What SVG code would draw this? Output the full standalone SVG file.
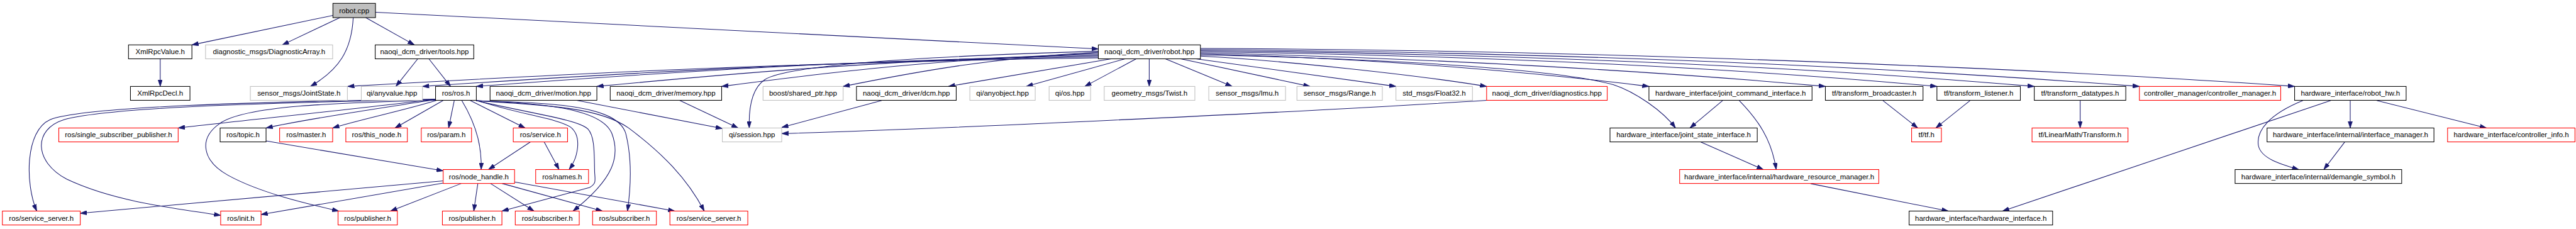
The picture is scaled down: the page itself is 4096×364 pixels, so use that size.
<svg xmlns="http://www.w3.org/2000/svg" width="4096" height="364" viewBox="0 0 4096 364">
<style>
.n rect{fill:#fff;stroke-width:1.2}
.b rect{stroke:#000}
.g rect{stroke:#bfbfbf}
.r rect{stroke:#ff0000}
.n text{font-family:"Liberation Sans",Arial,sans-serif;font-size:13px;text-anchor:middle;fill:#000}
.e{fill:none;stroke:#191970;stroke-width:1.2;marker-end:url(#a)}
</style>
<defs>
<marker id="a" markerUnits="userSpaceOnUse" markerWidth="12" markerHeight="8" refX="12" refY="4" orient="auto"><path d="M0,0 L12,4 L0,8 z" fill="#191970" stroke="#191970" stroke-width="0.8"/></marker>
</defs>
<rect width="4096" height="364" fill="#fff"/>
<g transform="scale(0.8845)">
<g id="edges">
<path class="e" d="M598.5,27.7 L345,80.7"/>
<path class="e" d="M611,31.7 L507.5,80.7"/>
<path class="e" d="M635,31.7 C632,90 610,125 558,155.3"/>
<path class="e" d="M657.5,31.7 L745,80.7"/>
<path class="e" d="M675,22 L1974.5,88"/>
<path class="e" d="M288,105.7 L288,155.3"/>
<path class="e" d="M751,105.7 L711.7,155.3"/>
<path class="e" d="M771,105.7 L810,155.3"/>
<path class="e" d="M1974.5,104 C1434.7,111.7 1030,132 625,155.3"/>
<path class="e" d="M1974.5,102 C1488.5,110 1124,131 759.5,155.3"/>
<path class="e" d="M1974.5,100 C1527,108 1192,130 856.3,155.3"/>
<path class="e" d="M1974.5,98 C1614,106.5 1343.5,129.7 1073,155.3"/>
<path class="e" d="M1974.5,96 C1703,105 1500,128.6 1297.3,155.3"/>
<path class="e" d="M1974.5,94 C1791,103 1653,127.7 1515.7,155.3"/>
<path class="e" d="M1974.5,92 C1700,100 1420,115 1375,143 C1350,160 1346,200 1347,230"/>
<path class="e" d="M1997.5,105.7 L1705,155.3"/>
<path class="e" d="M2022.5,105.7 L1845,155.3"/>
<path class="e" d="M2042.5,105.7 L1950,155.3"/>
<path class="e" d="M2066,105.7 L2066,155.3"/>
<path class="e" d="M2095,105.7 L2215,155.3"/>
<path class="e" d="M2122.5,105.7 L2355,155.3"/>
<path class="e" d="M2150,105.7 L2509.5,155.3"/>
<path class="e" d="M2158,101 C2300,108 2550,135 2672.5,155.3"/>
<path class="e" d="M2158,99 C2500,105 2800,125 2900,152 C2940,165 2990,200 3012,230"/>
<path class="e" d="M2158,97 C2500,105 2800,135 2964.3,155.3"/>
<path class="e" d="M2158,95 C2600,105 3000,130 3281.5,155.3"/>
<path class="e" d="M2158,93 C2700,100 3150,125 3482,155.3"/>
<path class="e" d="M2158,91 C2800,98 3300,125 3657,155.3"/>
<path class="e" d="M2158,89 C2900,95 3450,125 3846,155.3"/>
<path class="e" d="M2158,87 C2900,90 3700,125 4125,155.3"/>
<path class="e" d="M2672.5,180.3 C2400,198 1700,232 1405.3,240"/>
<path class="e" d="M1585,180.7 L1405.3,229"/>
<path class="e" d="M1221.7,180.3 L1327,230"/>
<path class="e" d="M1036.7,180.3 L1298.5,231"/>
<path class="e" d="M783,178 C650,195 450,215 320.3,230"/>
<path class="e" d="M783,179 C680,195 560,212 478.3,230"/>
<path class="e" d="M785,180.3 C720,200 650,214 598,230"/>
<path class="e" d="M797,180.3 L710,230"/>
<path class="e" d="M816.7,180.3 L806.5,230"/>
<path class="e" d="M845,180.3 L944,230"/>
<path class="e" d="M830,180.3 C860,230 866,270 865,304.7"/>
<path class="e" d="M856.3,180 C930,205 1000,212 1025,228 C1048,245 1038,285 1023,304.7"/>
<path class="e" d="M856.3,181 C960,205 1040,215 1057,232 C1070,246 1068,280 1069,310 C1070,325 1072,330 1060,337 L902.3,379.3"/>
<path class="e" d="M856.3,181 C950,185 1080,190 1100,240 C1115,280 1105,320 1030,379.3"/>
<path class="e" d="M856.3,181 C1000,185 1110,190 1125,240 C1135,280 1135,330 1128,379.3"/>
<path class="e" d="M856.3,181 C1000,190 1080,195 1130,230 C1190,275 1235,320 1266,379.3"/>
<path class="e" d="M783,178 C450,183 150,192 90,215 C45,235 45,330 66,379.3"/>
<path class="e" d="M783,179 C500,184 200,192 115,215 C60,232 60,290 120,322 C200,360 300,373 396.7,387"/>
<path class="e" d="M783,180 C600,185 440,190 395,222 C355,250 365,290 410,315 C470,348 560,368 609,379.3"/>
<path class="e" d="M478.3,253.3 L796.7,307"/>
<path class="e" d="M953.3,255.3 L878,304.7"/>
<path class="e" d="M978.3,255.3 L1005,304.7"/>
<path class="e" d="M796.7,325 L144.3,383.3"/>
<path class="e" d="M796.7,329 L469.3,385.5"/>
<path class="e" d="M829.3,329.7 L702,379.3"/>
<path class="e" d="M859,329.7 L851.7,379.3"/>
<path class="e" d="M881.7,329.7 L960,379.3"/>
<path class="e" d="M902.5,329.7 L1083,379.3"/>
<path class="e" d="M925,327 L1213,379.3"/>
<path class="e" d="M3096.7,180.7 L3038,230"/>
<path class="e" d="M3126.7,180.7 C3160,215 3185,250 3193,304.7"/>
<path class="e" d="M3057.5,255.3 L3170,304.7"/>
<path class="e" d="M3255,330 L3502.5,379.3"/>
<path class="e" d="M3385,180.7 L3447.5,230"/>
<path class="e" d="M3541.5,180.7 L3480,230"/>
<path class="e" d="M3739.5,180.7 L3739.5,230"/>
<path class="e" d="M4190,180.7 L3600,379.3"/>
<path class="e" d="M4140,180.7 C4080,205 4055,235 4060,262 C4065,285 4100,295 4132.5,304.7"/>
<path class="e" d="M4225,180.7 L4225,230"/>
<path class="e" d="M4272.5,180.7 L4470,230"/>
<path class="e" d="M4215,255.3 L4177.5,304.7"/>
</g>
<g id="n0" class="n b"><rect x="598.5" y="6" width="76.5" height="25.7" style="fill:#bfbfbf"/><text x="636.75" y="23.5">robot.cpp</text></g>
<g id="n1" class="n b"><rect x="231" y="80.7" width="114" height="25"/><text x="288" y="97.7">XmlRpcValue.h</text></g>
<g id="n2" class="n g"><rect x="369.5" y="80.7" width="228.5" height="25"/><text x="483.75" y="97.7">diagnostic_msgs/DiagnosticArray.h</text></g>
<g id="n3" class="n b"><rect x="674.5" y="80.7" width="177.2" height="25"/><text x="763.1" y="97.7">naoqi_dcm_driver/tools.hpp</text></g>
<g id="n4" class="n b"><rect x="1974.5" y="80.7" width="183.5" height="25"/><text x="2066.25" y="97.7">naoqi_dcm_driver/robot.hpp</text></g>
<g id="n5" class="n b"><rect x="234.5" y="155.3" width="107" height="25"/><text x="288" y="172.3">XmlRpcDecl.h</text></g>
<g id="n6" class="n g"><rect x="450" y="155.3" width="174.5" height="25"/><text x="537.25" y="172.3">sensor_msgs/JointState.h</text></g>
<g id="n7" class="n g"><rect x="649.5" y="155.3" width="110" height="25"/><text x="704.5" y="172.3">qi/anyvalue.hpp</text></g>
<g id="n8" class="n b"><rect x="783" y="155.3" width="73.3" height="25"/><text x="819.65" y="172.3">ros/ros.h</text></g>
<g id="n9" class="n b"><rect x="881" y="155.3" width="192" height="25"/><text x="977" y="172.3">naoqi_dcm_driver/motion.hpp</text></g>
<g id="n10" class="n b"><rect x="1097" y="155.3" width="200.3" height="25"/><text x="1197.15" y="172.3">naoqi_dcm_driver/memory.hpp</text></g>
<g id="n11" class="n g"><rect x="1371.7" y="155.3" width="144" height="25"/><text x="1443.7" y="172.3">boost/shared_ptr.hpp</text></g>
<g id="n12" class="n b"><rect x="1539.7" y="155.3" width="179.3" height="25"/><text x="1629.35" y="172.3">naoqi_dcm_driver/dcm.hpp</text></g>
<g id="n13" class="n g"><rect x="1743.5" y="155.3" width="117.5" height="25"/><text x="1802.25" y="172.3">qi/anyobject.hpp</text></g>
<g id="n14" class="n g"><rect x="1886" y="155.3" width="74.5" height="25"/><text x="1923.25" y="172.3">qi/os.hpp</text></g>
<g id="n15" class="n g"><rect x="1985" y="155.3" width="163" height="25"/><text x="2066.5" y="172.3">geometry_msgs/Twist.h</text></g>
<g id="n16" class="n g"><rect x="2173" y="155.3" width="138" height="25"/><text x="2242" y="172.3">sensor_msgs/Imu.h</text></g>
<g id="n17" class="n g"><rect x="2331.5" y="155.3" width="153.5" height="25"/><text x="2408.25" y="172.3">sensor_msgs/Range.h</text></g>
<g id="n18" class="n g"><rect x="2509.5" y="155.3" width="137.5" height="25"/><text x="2578.25" y="172.3">std_msgs/Float32.h</text></g>
<g id="n19" class="n r"><rect x="2672.5" y="155.3" width="216.8" height="25"/><text x="2780.9" y="172.3">naoqi_dcm_driver/diagnostics.hpp</text></g>
<g id="n20" class="n b"><rect x="2964.3" y="155.3" width="293.2" height="25"/><text x="3110.9" y="172.3">hardware_interface/joint_command_interface.h</text></g>
<g id="n21" class="n b"><rect x="3281.5" y="155.3" width="175.5" height="25"/><text x="3369.25" y="172.3">tf/transform_broadcaster.h</text></g>
<g id="n22" class="n b"><rect x="3482" y="155.3" width="150" height="25"/><text x="3557" y="172.3">tf/transform_listener.h</text></g>
<g id="n23" class="n b"><rect x="3657" y="155.3" width="164.5" height="25"/><text x="3739.25" y="172.3">tf/transform_datatypes.h</text></g>
<g id="n24" class="n r"><rect x="3846" y="155.3" width="254" height="25"/><text x="3973" y="172.3">controller_manager/controller_manager.h</text></g>
<g id="n25" class="n b"><rect x="4125" y="155.3" width="200.5" height="25"/><text x="4225.25" y="172.3">hardware_interface/robot_hw.h</text></g>
<g id="n26" class="n r"><rect x="105.7" y="230" width="214.6" height="25"/><text x="213" y="247">ros/single_subscriber_publisher.h</text></g>
<g id="n27" class="n b"><rect x="395.7" y="230" width="82.6" height="25"/><text x="437" y="247">ros/topic.h</text></g>
<g id="n28" class="n r"><rect x="502.7" y="230" width="95.3" height="25"/><text x="550.35" y="247">ros/master.h</text></g>
<g id="n29" class="n r"><rect x="621.7" y="230" width="110.6" height="25"/><text x="677" y="247">ros/this_node.h</text></g>
<g id="n30" class="n r"><rect x="757.3" y="230" width="90.4" height="25"/><text x="802.5" y="247">ros/param.h</text></g>
<g id="n31" class="n r"><rect x="922.7" y="230" width="97.6" height="25"/><text x="971.5" y="247">ros/service.h</text></g>
<g id="n32" class="n g"><rect x="1298.5" y="230" width="106.8" height="25"/><text x="1351.9" y="247">qi/session.hpp</text></g>
<g id="n33" class="n b"><rect x="2894.3" y="230" width="264.7" height="25"/><text x="3026.65" y="247">hardware_interface/joint_state_interface.h</text></g>
<g id="n34" class="n r"><rect x="3436.5" y="230" width="53.5" height="25"/><text x="3463.25" y="247">tf/tf.h</text></g>
<g id="n35" class="n r"><rect x="3653" y="230" width="172.5" height="25"/><text x="3739.25" y="247">tf/LinearMath/Transform.h</text></g>
<g id="n36" class="n b"><rect x="4075.5" y="230" width="300" height="25"/><text x="4225.5" y="247">hardware_interface/internal/interface_manager.h</text></g>
<g id="n37" class="n r"><rect x="4400" y="230" width="229" height="25"/><text x="4514.5" y="247">hardware_interface/controller_info.h</text></g>
<g id="n38" class="n r"><rect x="796.7" y="304.7" width="128.3" height="25"/><text x="860.85" y="321.7">ros/node_handle.h</text></g>
<g id="n39" class="n r"><rect x="963" y="304.7" width="95" height="25"/><text x="1010.5" y="321.7">ros/names.h</text></g>
<g id="n40" class="n r"><rect x="3019.5" y="304.7" width="358" height="25"/><text x="3198.5" y="321.7">hardware_interface/internal/hardware_resource_manager.h</text></g>
<g id="n41" class="n b"><rect x="4018" y="304.7" width="299.5" height="25"/><text x="4167.75" y="321.7">hardware_interface/internal/demangle_symbol.h</text></g>
<g id="n42" class="n r"><rect x="4.3" y="379.3" width="140" height="25"/><text x="74.3" y="396.3">ros/service_server.h</text></g>
<g id="n43" class="n r"><rect x="396.7" y="379.3" width="72.6" height="25"/><text x="433" y="396.3">ros/init.h</text></g>
<g id="n44" class="n r"><rect x="607.7" y="379.3" width="106.6" height="25"/><text x="661" y="396.3">ros/publisher.h</text></g>
<g id="n45" class="n r"><rect x="795.3" y="379.3" width="107" height="25"/><text x="848.8" y="396.3">ros/publisher.h</text></g>
<g id="n46" class="n r"><rect x="926.3" y="379.3" width="115" height="25"/><text x="983.8" y="396.3">ros/subscriber.h</text></g>
<g id="n47" class="n r"><rect x="1065.3" y="379.3" width="114.7" height="25"/><text x="1122.65" y="396.3">ros/subscriber.h</text></g>
<g id="n48" class="n r"><rect x="1204.3" y="379.3" width="140" height="25"/><text x="1274.3" y="396.3">ros/service_server.h</text></g>
<g id="n49" class="n b"><rect x="3432" y="379.3" width="258" height="25"/><text x="3561" y="396.3">hardware_interface/hardware_interface.h</text></g>
</g>
</svg>
